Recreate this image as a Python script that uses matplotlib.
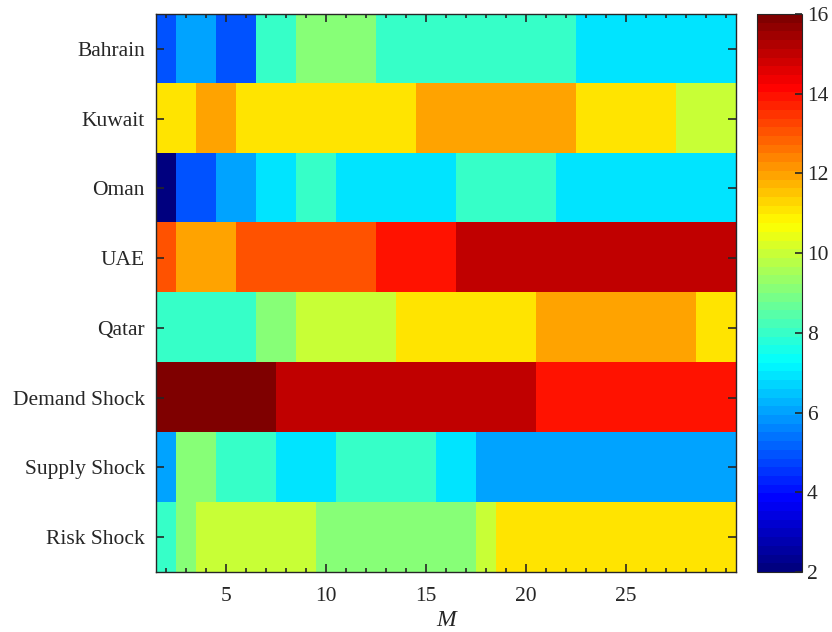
import numpy as np
import matplotlib
matplotlib.use("Agg")
import matplotlib.pyplot as plt
from matplotlib.colors import LinearSegmentedColormap
from matplotlib.ticker import MultipleLocator

plt.rcParams['font.family'] = ['Liberation Serif', 'DejaVu Serif']

rows = ["Bahrain", "Kuwait", "Oman", "UAE", "Qatar",
        "Demand Shock", "Supply Shock", "Risk Shock"]
M = list(range(2, 31))

# value per M = 2..30 (run lengths)
bahrain = [5] + [6]*2 + [5]*2 + [8]*2 + [9]*4 + [8]*10 + [7]*8
kuwait = [11]*2 + [12]*2 + [11]*9 + [12]*8 + [11]*5 + [10]*3
oman = [2] + [5]*2 + [6]*2 + [7]*2 + [8]*2 + [7]*6 + [8]*5 + [7]*9
uae = [13] + [12]*3 + [13]*7 + [14]*4 + [15]*14
qatar = [8]*5 + [9]*2 + [10]*5 + [11]*7 + [12]*8 + [11]*2
demand = [16]*6 + [15]*13 + [14]*10
supply = [6] + [9]*2 + [8]*3 + [7]*3 + [8]*5 + [7]*2 + [6]*13
risk = [8] + [9] + [10]*6 + [9]*8 + [10] + [11]*12

Z = np.array([bahrain, kuwait, oman, uae, qatar, demand, supply, risk])

# matlab style jet
jet_dict = {
    'red':   [(0, 0, 0), (3/8, 0, 0), (5/8, 1, 1), (7/8, 1, 1), (1, 0.5, 0.5)],
    'green': [(0, 0, 0), (1/8, 0, 0), (3/8, 1, 1), (5/8, 1, 1), (7/8, 0, 0), (1, 0, 0)],
    'blue':  [(0, 0.5, 0.5), (1/8, 1, 1), (3/8, 1, 1), (5/8, 0, 0), (1, 0, 0)],
}
cmap = LinearSegmentedColormap('mjet', jet_dict, N=64)

fig = plt.figure(figsize=(8.32, 6.32), dpi=100)
ax = fig.add_axes([0.1875, 0.095, 0.697, 0.883])
cax = fig.add_axes([0.91, 0.095, 0.054, 0.883])

im = ax.imshow(Z, cmap=cmap, vmin=2, vmax=16, aspect='auto',
               interpolation='nearest',
               extent=[M[0] - 0.5, M[-1] + 0.5, len(rows) + 0.5, 0.5])

ax.set_yticks(range(1, len(rows) + 1))
ax.set_yticklabels(rows)
ax.set_xticks([5, 10, 15, 20, 25])
ax.xaxis.set_minor_locator(MultipleLocator(1))
ax.set_xlim(M[0] - 0.5, M[-1] + 0.5)
ax.tick_params(which='both', direction='in', top=True, right=True,
               labelsize=15.5, color='#262626', labelcolor='#262626')
ax.tick_params(which='major', length=6, width=1.2)
ax.tick_params(which='minor', length=3, width=1.2)
ax.tick_params(axis='y', which='minor', left=False, right=False)
ax.tick_params(axis='y', pad=8)
ax.tick_params(axis='x', which='major', pad=11)
ax.set_xlabel("M", fontsize=17, style='italic', labelpad=3, color='#262626')
for s in ax.spines.values():
    s.set_color('#262626')
    s.set_linewidth(1.0)

cb = fig.colorbar(im, cax=cax, ticks=range(2, 17, 2))
cb.ax.tick_params(direction='in', length=5, width=1.2, labelsize=15.5,
                  color='#262626', labelcolor='#262626')
cb.outline.set_edgecolor('#262626')

fig.savefig("out.png", dpi=100)
